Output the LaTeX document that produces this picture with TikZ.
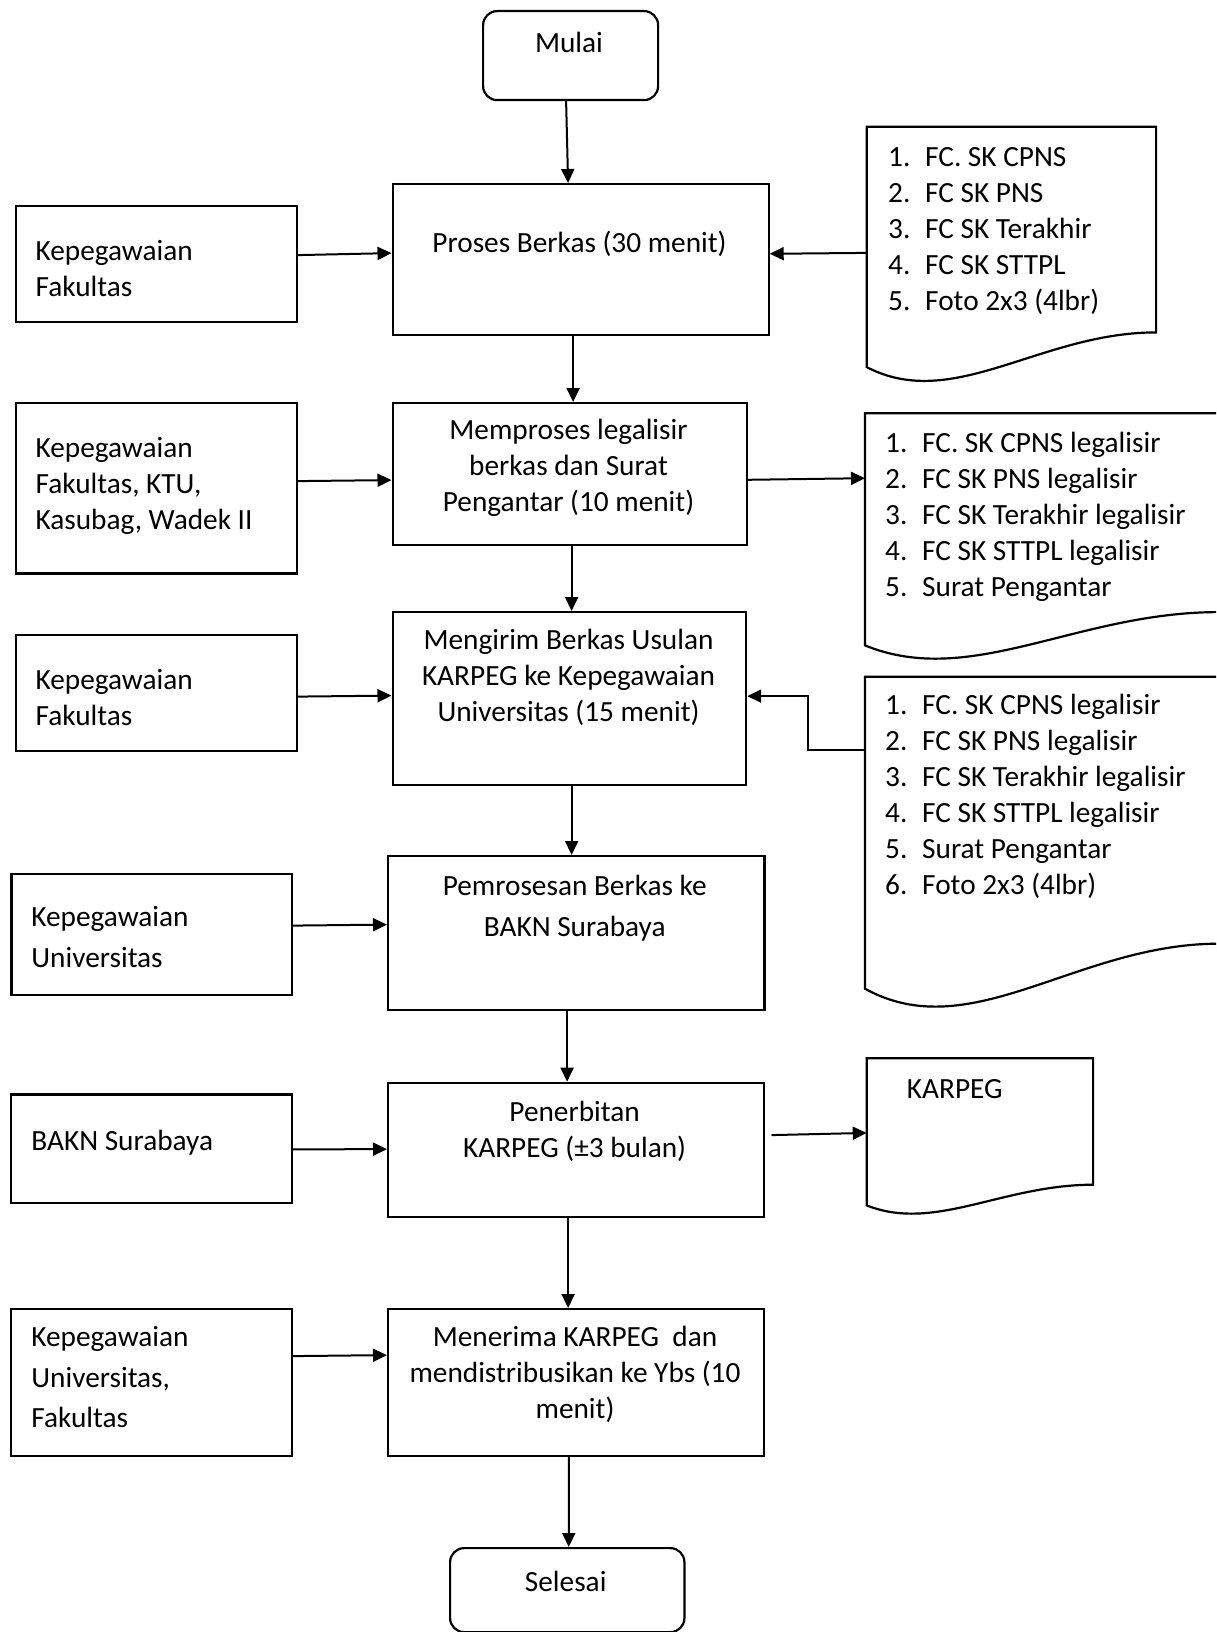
\documentclass[tikz,border=0pt]{standalone}
\usepackage{fontspec}
\setmainfont{Carlito}
\usetikzlibrary{arrows.meta}
\newcommand\fs{\fontsize{29.3pt}{36pt}\selectfont}
\newcommand\fsw{\fontsize{29.3pt}{40.7pt}\selectfont}
\newcommand\fstrut{\rule{0pt}{25pt}}
\newcommand\itm[1]{\makebox[37pt][l]{#1.}}
\tikzset{
  box/.style={draw, line width=2.2pt, rectangle, inner sep=0pt, anchor=north west},
  term/.style={box, rounded corners=14pt},
  docarea/.style={inner sep=0pt, anchor=north west, rectangle},
  docline/.style={draw, line width=2.2pt, line join=miter},
  arr/.style={line width=2pt, -{Triangle[length=14pt,width=13pt]}},
  ctxt/.style={inner sep=0pt, anchor=north, align=center, font=\fs},
  ctxtw/.style={inner sep=0pt, anchor=north, align=center, font=\fsw},
  ltxt/.style={inner sep=0pt, anchor=north west, align=left, font=\fs},
  ltxtw/.style={inner sep=0pt, anchor=north west, align=left, font=\fsw},
}
\begin{document}
\begin{tikzpicture}[x=1pt,y=-1pt]
\useasboundingbox (0,0) rectangle (1216,1632);
\fill[white] (0,0) rectangle (1216,1632);
\clip (0,0) rectangle (1216,1632);

% main process boxes
\node[term, minimum width=175pt, minimum height=89pt] (mulai) at (482,10) {};
\node[box, minimum width=376pt, minimum height=151pt] (p1) at (391.5,183) {};
\node[box, minimum width=354pt, minimum height=141.5pt] (p2) at (391.5,402) {};
\node[box, minimum width=353.5pt, minimum height=173pt] (p3) at (391.5,611) {};
\node[box, minimum width=376.3pt, minimum height=154pt] (p4) at (387,855) {};
\node[box, minimum width=376pt, minimum height=134pt] (p5) at (387,1081.7) {};
\node[box, minimum width=376pt, minimum height=147pt] (p6) at (387,1308) {};
\node[term, minimum width=234.3pt, minimum height=84pt] (sel) at (449,1547) {};

% left boxes
\node[box, minimum width=281.4pt, minimum height=116pt] (L1) at (14.6,205) {};
\node[box, minimum width=281.4pt, minimum height=170.6pt] (L2) at (14.6,401.7) {};
\node[box, minimum width=281.1pt, minimum height=115.6pt] (L3) at (14.6,634) {};
\node[box, minimum width=280.1pt, minimum height=121.5pt] (L4) at (10.4,872.5) {};
\node[box, minimum width=281pt, minimum height=108.4pt] (L5) at (10,1093.3) {};
\node[box, minimum width=281pt, minimum height=147pt] (L6) at (10,1308) {};

% document shapes
\node[docarea, minimum width=289pt, minimum height=240pt] (d1) at (866.7,126.7) {};
\node[docarea, minimum width=353pt, minimum height=231.7pt] (d2) at (865,413.3) {};
\node[docarea, minimum width=353pt, minimum height=311.6pt] (d3) at (865,676.7) {};
\node[docarea, minimum width=226pt, minimum height=146.7pt] (dk) at (866.7,1058.3) {};

\draw[docline] (d1.north west) -- (d1.north east) -- ([yshift=34.7pt]d1.south east)
  .. controls ([shift={(173.4,-34.7)}]d1.south west) and ([shift={(86.7,45.1)}]d1.south west) .. (d1.south west) -- cycle;
\draw[docline] (d2.north west) -- (d2.north east) -- ([yshift=33.3pt]d2.south east)
  .. controls ([shift={(211.8,-33.3)}]d2.south west) and ([shift={(105.9,43.3)}]d2.south west) .. (d2.south west) -- cycle;
\draw[docline] (d3.north west) -- (d3.north east) -- ([yshift=45pt]d3.south east)
  .. controls ([shift={(211.8,-45)}]d3.south west) and ([shift={(105.9,58.5)}]d3.south west) .. (d3.south west) -- cycle;
\draw[docline] (dk.north west) -- (dk.north east) -- ([yshift=20.7pt]dk.south east)
  .. controls ([shift={(135.6,-20.7)}]dk.south west) and ([shift={(67.8,26.9)}]dk.south west) .. (dk.south west) -- cycle;

% texts
\node[ctxt] (mulait) at (569,27.5) {\fstrut Mulai};
\node[ctxt] (p1t) at (579.5,227.5) {\fstrut Proses Berkas (30 menit)};
\node[ctxt] (p2t) at (568.5,414.5) {\fstrut Memproses legalisir\\berkas dan Surat\\Pengantar (10 menit)};
\node[ctxt] (p3t) at (568.5,624.5) {\fstrut Mengirim Berkas Usulan\\KARPEG ke Kepegawaian\\Universitas (15 menit)};
\node[ctxtw] (p4t) at (574.7,870.5) {\fstrut Pemrosesan Berkas ke\\BAKN Surabaya};
\node[ctxt] (p5t) at (574.6,1096.2) {\fstrut Penerbitan\\KARPEG (±3 bulan)};
\node[ctxt] (p6t) at (575,1321.2) {\fstrut Menerima KARPEG~ dan\\mendistribusikan ke Ybs (10\\menit)};
\node[ctxt] (selt) at (565.7,1566.2) {\fstrut Selesai};

\node[ltxt] (L1t) at (35.4,235.5) {\fstrut Kepegawaian\\Fakultas};
\node[ltxt] (L2t) at (35.4,432.2) {\fstrut Kepegawaian\\Fakultas, KTU,\\Kasubag, Wadek II};
\node[ltxt] (L3t) at (35.4,664.5) {\fstrut Kepegawaian\\Fakultas};
\node[ltxtw] (L4t) at (31.2,901.5) {\fstrut Kepegawaian\\Universitas};
\node[ltxt] (L5t) at (31.2,1125.5) {\fstrut BAKN Surabaya};
\node[ltxtw] (L6t) at (31.2,1321.2) {\fstrut Kepegawaian\\Universitas,\\Fakultas};

\node[ltxt] (d1t) at (888,141.2) {\fstrut\itm{1}FC. SK CPNS\\\itm{2}FC SK PNS\\\itm{3}FC SK Terakhir\\\itm{4}FC SK STTPL\\\itm{5}Foto 2x3 (4lbr)};
\node[ltxt] (d2t) at (885,427.5) {\fstrut\itm{1}FC. SK CPNS legalisir\\\itm{2}FC SK PNS legalisir\\\itm{3}FC SK Terakhir legalisir\\\itm{4}FC SK STTPL legalisir\\\itm{5}Surat Pengantar};
\node[ltxt] (d3t) at (885,689.5) {\fstrut\itm{1}FC. SK CPNS legalisir\\\itm{2}FC SK PNS legalisir\\\itm{3}FC SK Terakhir legalisir\\\itm{4}FC SK STTPL legalisir\\\itm{5}Surat Pengantar\\\itm{6}Foto 2x3 (4lbr)};
\node[ltxt] (dkt) at (906.7,1072.8) {\fstrut KARPEG};

% vertical connectors
\draw[arr] ([xshift=-4.5pt]mulai.south) -- ([xshift=-12.5pt]p1.north);
\draw[arr] ([xshift=-7.5pt]p1.south) -- ([xshift=3.5pt]p2.north);
\draw[arr] ([xshift=2pt]p2.south) -- ([xshift=2.25pt]p3.north);
\draw[arr] ([xshift=2.25pt]p3.south) -- ([xshift=-4.65pt]p4.north);
\draw[arr] ([xshift=-9.15pt]p4.south) -- ([xshift=-9pt]p5.north);
\draw[arr] ([xshift=-8pt]p5.south) -- ([xshift=-8pt]p6.north);
\draw[arr] ([xshift=-7.3pt]p6.south) -- ([xshift=1.5pt]sel.north);

% horizontal connectors
\draw[arr] ([yshift=9pt]L1.east) -- ([yshift=6.5pt]p1.west);
\draw[arr] ([yshift=-6pt]d1.west) -- ([yshift=5.8pt]p1.east);
\draw[arr] ([yshift=7pt]L2.east) -- ([yshift=-6.25pt]p2.west);
\draw[arr] ([yshift=-5.95pt]p2.east) -- ([yshift=51.15pt]d2.west);
\draw[arr] ([yshift=-3.7pt]L3.east) -- ([yshift=3pt]p3.west);
\draw[arr] ([yshift=83.2pt]d3.west) -- ++(-56.7,0) |- ([yshift=2.5pt]p3.east);
\draw[arr] ([yshift=8.75pt]L4.east) -- ([yshift=8.5pt]p4.west);
\draw[arr] ([yshift=-0.8pt]L5.east) -- ([yshift=0.7pt]p5.west);
\draw[arr] ([shift={(6.3,-14.7)}]p5.east) -- ([yshift=-1.05pt]dk.west);
\draw[arr] ([yshift=26.5pt]L6.east) -- ([yshift=27.5pt]p6.west);
\end{tikzpicture}
\end{document}
